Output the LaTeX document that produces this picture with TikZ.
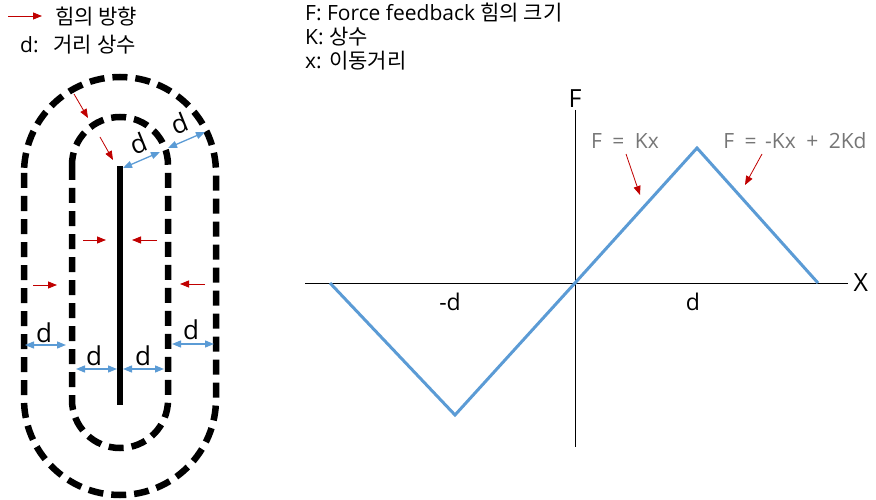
\documentclass[tikz,border=0pt]{standalone}
\usepackage{fontspec}
\setmainfont{Open Sans}
\newfontfamily\krfont{Noto Sans CJK KR}
\usepackage{xcolor}
\usetikzlibrary{arrows.meta, calc, positioning}
\definecolor{forcered}{RGB}{192,0,0}
\definecolor{curveblue}{RGB}{91,155,213}
\definecolor{eqgray}{RGB}{118,118,118}
\newcommand{\kr}[1]{{\krfont #1}}

\begin{document}
\begin{tikzpicture}[x=1pt,y=-1pt,>=Stealth,
    wall/.style={line width=6.5pt,dash pattern=on 15pt off 8pt},
    force/.style={forcered,line width=0.8pt,-{Triangle[length=9pt,width=7pt]}},
    gap/.style={curveblue,line width=1.3pt,{Triangle[length=9pt,width=7pt]}-{Triangle[length=9pt,width=7pt]}},
    dlbl/.style={font=\fontsize{26}{28}\selectfont},
    txt/.style={font=\fontsize{21}{23}\selectfont,anchor=base west,inner sep=0pt},
    eqlbl/.style={eqgray,font=\fontsize{21}{23}\selectfont}]
  \useasboundingbox (0,0) rectangle (876,500);
  % legend
  \coordinate (L1) at (8,16);
  \coordinate (L2) at (42,16);
  \draw[force] (L1) -- (L2);
  \node[txt] (leg1) at (55,25) {\kr{힘의 방향}};
  \node[txt] (leg2) at (20,53) {d:\hspace{15pt}\kr{거리 상수}};
  \node[txt] (def1) at (305,21) {F: Force feedback \kr{힘의 크기}};
  \node[txt] (def2) at (305,45) {K: \kr{상수}};
  \node[txt] (def3) at (305,69) {x: \kr{이동거리}};
  % walls
  \draw[wall] (24,173) -- (24,399) arc[start angle=180,end angle=0,radius=96]
    -- (216,173) arc[start angle=0,end angle=-180,radius=96];
  \draw[wall] (72,165) -- (72,400) arc[start angle=180,end angle=0,radius=48]
    -- (168,165) arc[start angle=0,end angle=-180,radius=48];
  \coordinate (Bt) at (120,166);
  \coordinate (Bb) at (120,405);
  \draw[line width=6pt] (Bt) -- (Bb);
  % force directions
  \coordinate (R1) at (74,94);   \coordinate (R1e) at (88,118);
  \coordinate (R2) at (100,137); \coordinate (R2e) at (113,160);
  \coordinate (R3) at (83,240);  \coordinate (R3e) at (106,240);
  \coordinate (R4) at (157,240); \coordinate (R4e) at (132,240);
  \coordinate (R5) at (33,285);  \coordinate (R5e) at (57,285);
  \coordinate (R6) at (205,284); \coordinate (R6e) at (180,284);
  \foreach \s in {R1,R2,R3,R4,R5,R6}
    \draw[force] (\s) -- (\s e);
  % distances
  \coordinate (G1a) at (123,168); \coordinate (G1b) at (160,152);
  \coordinate (G2a) at (168,148); \coordinate (G2b) at (205,132);
  \coordinate (G3a) at (25,345);  \coordinate (G3b) at (66,345);
  \coordinate (G4a) at (76,369);  \coordinate (G4b) at (117,369);
  \coordinate (G5a) at (123,369); \coordinate (G5b) at (164,369);
  \coordinate (G6a) at (172,344); \coordinate (G6b) at (214,344);
  \foreach \g in {G1,G2,G3,G4,G5,G6}
    \draw[gap] (\g a) -- (\g b);
  \node[dlbl,rotate=22] (d1) at (138,143) {d};
  \node[dlbl,rotate=22] (d2) at (179,123) {d};
  \node[dlbl] (d3) at (44,333) {d};
  \node[dlbl] (d4) at (94,356) {d};
  \node[dlbl] (d5) at (143,356) {d};
  \node[dlbl] (d6) at (191,330) {d};
  % axes
  \coordinate (Xl) at (305,283);
  \coordinate (Xr) at (848,283);
  \coordinate (Ft) at (575,110);
  \coordinate (Fb) at (575,447);
  \draw[line width=1pt] (Xl) -- (Xr);
  \draw[line width=1pt] (Ft) -- (Fb);
  \node[font=\fontsize{25}{27}\selectfont,right=2pt of Xr] (Xlbl) {X};
  \node[font=\fontsize{25}{27}\selectfont,above=-1pt of Ft] (Flbl) {F};
  \node[font=\fontsize{23}{25}\selectfont] (mdlbl) at (450,302) {-d};
  \node[font=\fontsize{23}{25}\selectfont] (dlbl) at (693,302) {d};
  % force curve
  \coordinate (O) at (575,283);
  \coordinate (P1) at (330,283);
  \coordinate (P2) at (455,415);
  \coordinate (P3) at (697,148);
  \coordinate (P4) at (818,283);
  \draw[curveblue,line width=3pt,line join=miter] (P1) -- (P2) -- (O) -- (P3) -- (P4);
  \node[eqlbl] (eq1) at (625,141) {F\hspace{5pt} = \hspace{5pt}Kx};
  \node[eqlbl] (eq2) at (795,141) {F\hspace{5pt} = \hspace{3pt}-Kx\hspace{5pt} + \hspace{5pt}2Kd};
  \coordinate (E1) at (626,154); \coordinate (E1e) at (640,195);
  \coordinate (E2) at (762,154); \coordinate (E2e) at (745,185);
  \draw[force] (E1) -- (E1e);
  \draw[force] (E2) -- (E2e);
\end{tikzpicture}
\end{document}
